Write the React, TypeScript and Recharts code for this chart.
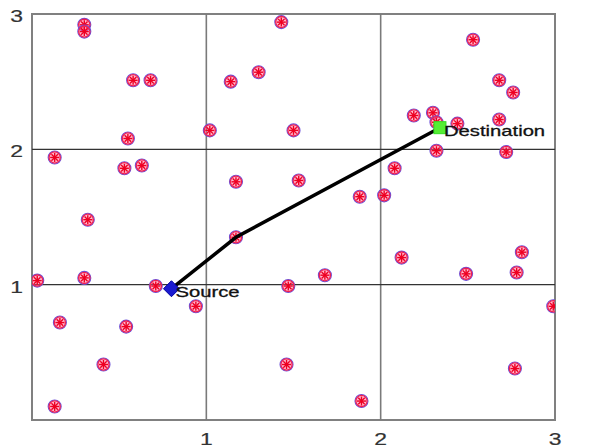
import { ReferenceArea, ReferenceLine, Scatter, ScatterChart, XAxis, YAxis } from "recharts";

// sensor nodes
const nodeX = [
  0.3, 0.3, 0.58, 0.68, 0.55, 0.13, 0.53, 0.63, 0.32, 0.03, 0.3, 0.71, 0.16, 0.54, 0.41, 0.13, 0.94,
  1.43, 1.3, 1.14, 1.02, 1.5, 1.17, 1.53, 1.17, 1.68, 1.47, 1.88, 2.02, 1.46, 1.89,
  2.53, 2.68, 2.76, 2.19, 2.3, 2.32, 2.44, 2.68, 2.32, 2.72, 2.08, 2.12, 2.81, 2.49, 2.78, 2.77, 2.99,
];
const nodeY = [
  2.92, 2.87, 2.51, 2.51, 2.08, 1.94, 1.86, 1.88, 1.48, 1.03, 1.05, 0.99, 0.72, 0.69, 0.41, 0.1, 0.84,
  2.94, 2.57, 2.5, 2.14, 2.14, 1.76, 1.77, 1.35, 1.07, 0.99, 1.65, 1.66, 0.41, 0.14,
  2.81, 2.51, 2.42, 2.25, 2.27, 2.2, 2.19, 2.22, 1.99, 1.98, 1.86, 1.2, 1.24, 1.08, 1.09, 0.38, 0.84,
];

// route from source to destination
const routeX = [0.8, 1.17, 2.34];
const routeY = [0.97, 1.35, 2.16];

const endpointNames = ["Source", "Destination"];
const endpointX = [0.8, 2.34];
const endpointY = [0.97, 2.16];

const xTicks = [1, 2, 3];
const yTicks = [1, 2, 3];
const gridValues = [1, 2];

const nodes = nodeX.map((x, i) => ({ x, y: nodeY[i] }));
const route = routeX.map((x, i) => ({ x, y: routeY[i] }));
const endpoints = endpointNames.map((name, i) => ({ name, x: endpointX[i], y: endpointY[i] }));

const FONT = "'Liberation Sans', Arial, sans-serif";

function NodeMarker(props: any) {
  const { cx, cy } = props;
  const s = 4.5;
  const d = s * 0.72;
  return (
    <g>
      <circle cx={cx} cy={cy} r={6.5} fill="rgba(255,100,150,0.45)" stroke="#6a50d8" strokeWidth={1.1} />
      <circle cx={cx} cy={cy} r={5.6} fill="none" stroke="#f02050" strokeWidth={1.3} />
      <g stroke="#ee0022" strokeWidth={1.4}>
        <line x1={cx - s} y1={cy} x2={cx + s} y2={cy} />
        <line x1={cx} y1={cy - s} x2={cx} y2={cy + s} />
        <line x1={cx - d} y1={cy - d} x2={cx + d} y2={cy + d} />
        <line x1={cx - d} y1={cy + d} x2={cx + d} y2={cy - d} />
      </g>
    </g>
  );
}

function EndpointMarker(props: any) {
  const { cx, cy, payload } = props;
  const isSource = payload.name === "Source";
  return (
    <g>
      {isSource ? (
        <path
          d={`M${cx},${cy - 8} L${cx + 8},${cy} L${cx},${cy + 8} L${cx - 8},${cy} Z`}
          fill="#1a1ad0"
          stroke="#0000a0"
          strokeWidth={1}
        />
      ) : (
        <rect x={cx - 6} y={cy - 6} width={12} height={12} fill="#55ee33" stroke="#33dd22" />
      )}
      <text
        transform={`translate(${cx + (isSource ? 4 : 4)},${cy + 8}) scale(1.35,1)`}
        fontFamily={FONT}
        fontSize={15}
        fill="#111"
        stroke="#111"
        strokeWidth={0.3}
      >
        {payload.name}
      </text>
    </g>
  );
}

function XTick(props: any) {
  const { x, y, payload } = props;
  return (
    <text
      transform={`translate(${x},${y + 25}) scale(1.35,1)`}
      textAnchor="middle"
      fontFamily={FONT}
      fontSize={17}
      fill="#333"
      stroke="#333"
      strokeWidth={0.2}
    >
      {payload.value}
    </text>
  );
}

function YTick(props: any) {
  const { x, y, payload } = props;
  return (
    <text
      transform={`translate(${x},${y + 8}) scale(1.35,1)`}
      textAnchor="end"
      fontFamily={FONT}
      fontSize={17}
      fill="#333"
      stroke="#333"
      strokeWidth={0.2}
    >
      {payload.value}
    </text>
  );
}

export default function App() {
  return (
    <div style={{ position: "absolute", left: 0, top: 0, width: 608, height: 448, background: "#fff" }}>
      <ScatterChart width={608} height={448} margin={{ top: 14, right: 53, bottom: 0, left: 0 }}>
        <XAxis
          dataKey="x"
          type="number"
          domain={[0, 3]}
          ticks={xTicks}
          axisLine={false}
          tickLine={false}
          tickSize={0}
          tickMargin={0}
          height={28}
          tick={<XTick />}
          allowDataOverflow
        />
        <YAxis
          dataKey="y"
          type="number"
          domain={[0, 3]}
          ticks={yTicks}
          axisLine={false}
          tickLine={false}
          tickSize={0}
          tickMargin={9}
          width={32}
          tick={<YTick />}
          allowDataOverflow
        />
        {gridValues.map((v) => (
          <ReferenceLine key={`vx${v}`} x={v} stroke="#7a7a7a" strokeWidth={1.6} />
        ))}
        {gridValues.map((v) => (
          <ReferenceLine key={`hy${v}`} y={v} stroke="#333" strokeWidth={1.2} />
        ))}
        <ReferenceArea x1={0} x2={3} y1={0} y2={3} fill="none" stroke="#808080" strokeWidth={2} />
        <Scatter data={nodes} shape={<NodeMarker />} isAnimationActive={false} />
        <Scatter
          data={route}
          line={{ stroke: "#000", strokeWidth: 3.5 }}
          shape={() => <g />}
          isAnimationActive={false}
        />
        <Scatter data={endpoints} shape={<EndpointMarker />} isAnimationActive={false} />
      </ScatterChart>
    </div>
  );
}
